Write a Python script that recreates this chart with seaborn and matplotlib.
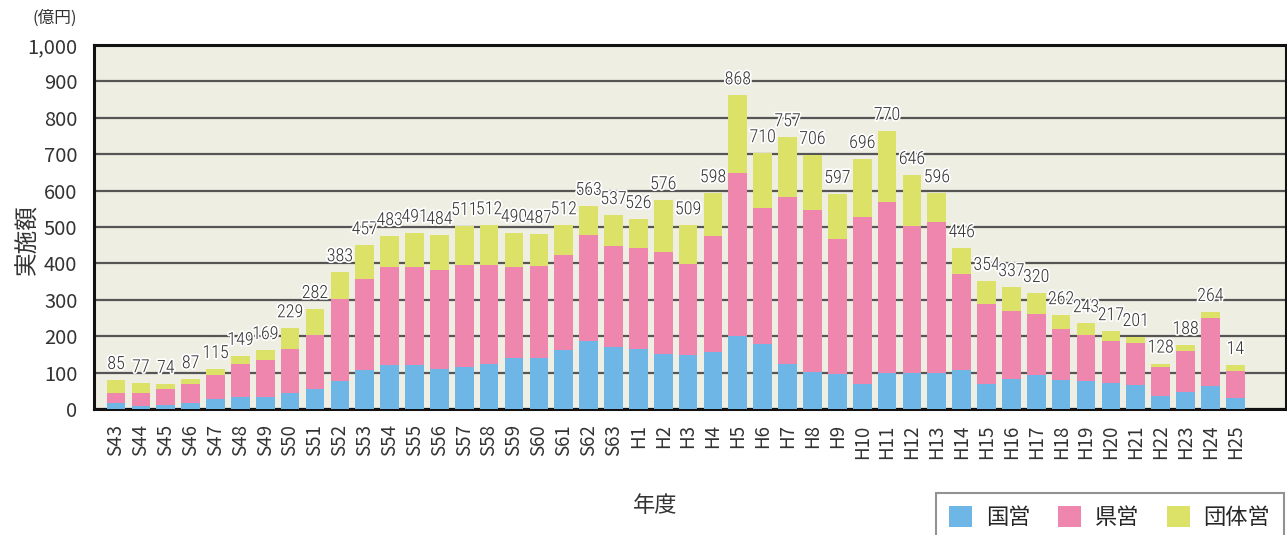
import numpy as np
import pandas as pd
import matplotlib
matplotlib.use("Agg")
import matplotlib.pyplot as plt
import matplotlib.patheffects as pe
from matplotlib.patches import Patch
from matplotlib import font_manager as fm
import seaborn as sns

years = ["S43", "S44", "S45", "S46", "S47", "S48", "S49", "S50", "S51", "S52",
         "S53", "S54", "S55", "S56", "S57", "S58", "S59", "S60", "S61", "S62",
         "S63", "H1", "H2", "H3", "H4", "H5", "H6", "H7", "H8", "H9", "H10",
         "H11", "H12", "H13", "H14", "H15", "H16", "H17", "H18", "H19", "H20",
         "H21", "H22", "H23", "H24", "H25"]
kokuei = [16, 9, 11, 16, 27, 32, 34, 43, 54, 77, 108, 121, 121, 110, 115, 124,
          141, 141, 163, 187, 170, 165, 152, 148, 157, 201, 179, 124, 103, 97,
          70, 99, 99, 99, 108, 70, 82, 93, 81, 77, 71, 66, 37, 48, 64, 31]
kenei = [27, 34, 44, 53, 66, 92, 101, 122, 149, 225, 249, 270, 270, 272, 281,
         272, 249, 252, 260, 291, 278, 277, 279, 250, 318, 447, 373, 458, 444,
         370, 457, 470, 405, 415, 263, 219, 187, 168, 139, 126, 116, 114, 78,
         111, 186, 73]
dantai = [37, 28, 14, 13, 17, 22, 27, 57, 72, 74, 93, 84, 93, 96, 107, 109, 94,
          88, 82, 80, 85, 80, 143, 107, 118, 214, 151, 165, 151, 124, 160, 195,
          139, 79, 71, 63, 66, 58, 38, 33, 27, 18, 10, 17, 17, 17]
total_labels = ["85", "77", "74", "87", "115", "149", "169", "229", "282", "383",
                "457", "483", "491", "484", "511", "512", "490", "487", "512",
                "563", "537", "526", "576", "509", "598", "868", "710", "757",
                "706", "597", "696", "770", "646", "596", "446", "354", "337",
                "320", "262", "243", "217", "201", "128", "188", "264", "14"]
series_names = ["国営", "県営", "団体営"]
colors = ["#6DB6E5", "#EF86AE", "#DCE267"]
y_ticks = [0, 100, 200, 300, 400, 500, 600, 700, 800, 900, 1000]
y_ticklabels = ["0", "100", "200", "300", "400", "500", "600", "700", "800", "900", "1,000"]

df = pd.DataFrame({"year": years, "kokuei": kokuei, "kenei": kenei, "dantai": dantai})
df["c1"] = df["kokuei"]
df["c2"] = df["kokuei"] + df["kenei"]
df["c3"] = df["c2"] + df["dantai"]

sns.set_style("white")
plt.rcParams["font.family"] = ["Noto Sans CJK JP", "DejaVu Sans"]

# condensed font for the value labels
available = {f.name for f in fm.fontManager.ttflist}
cond_family = "DejaVu Sans"
for cand in ["Roboto Condensed", "Open Sans Condensed", "Barlow Condensed",
             "PT Sans Narrow", "Archivo Narrow", "Barlow Semi Condensed",
             "Liberation Sans Narrow", "DejaVu Sans Condensed"]:
    if cand in available:
        cond_family = cand
        break
cond_fp = fm.FontProperties(family=cond_family, size=13, weight="light")

fig = plt.figure(figsize=(12.87, 5.35), dpi=100)
ax = fig.add_axes([94 / 1287, 126 / 535, 1192 / 1287, 364 / 535])
ax.set_facecolor("#EFEEE3")

for col, c in zip(["c3", "c2", "c1"], [colors[2], colors[1], colors[0]]):
    sns.barplot(data=df, x="year", y=col, color=c, width=0.75, ax=ax,
                saturation=1, linewidth=0, zorder=3, order=years)

ax.set_ylim(0, 1000)
ax.set_xlim(-0.885, 47.04)
ax.set_yticks(y_ticks)
ax.set_yticklabels(y_ticklabels, fontsize=14.5, color="#333333")
ax.tick_params(axis="y", length=0, pad=12)
ax.tick_params(axis="x", length=0, pad=11)
ax.set_xticks(range(len(years)))
ax.set_xticklabels(years, rotation=90, fontsize=13.5, color="#333333")
ax.yaxis.grid(True, color="#555555", linewidth=1.6, zorder=1)
ax.set_axisbelow(True)
for s in ax.spines.values():
    s.set_visible(True)
    s.set_color("#111111")
    s.set_linewidth(2.2)
ax.set_xlabel("")
ax.set_ylabel("")

for i, (lab, tot) in enumerate(zip(total_labels, df["c3"])):
    ax.annotate(lab, (i, tot), xytext=(0, 5), textcoords="offset points",
                ha="center", va="bottom", color="#333333",
                fontproperties=cond_fp, zorder=5,
                path_effects=[pe.withStroke(linewidth=2.5, foreground="white")])

fig.text(28 / 1287, 1 - 240 / 535, "実施額", rotation=90, ha="center", va="center",
         fontsize=17, color="#333333")
fig.text(55 / 1287, 1 - 18 / 535, "(億円)", ha="center", va="center",
         fontsize=12, color="#333333")
fig.text(655 / 1287, 1 - 505 / 535, "年度", ha="center", va="center",
         fontsize=16, color="#333333")

handles = [Patch(facecolor=c, edgecolor="none", label=n) for c, n in zip(colors, series_names)]
leg = fig.legend(handles=handles, loc="lower right", bbox_to_anchor=(1.006, -0.035),
                 ncol=3, frameon=True, fancybox=False, fontsize=16,
                 handlelength=1.05, handleheight=1.05, handletextpad=0.6,
                 columnspacing=1.25, borderpad=0.6)
leg.get_frame().set_edgecolor("#777777")
leg.get_frame().set_linewidth(1.5)

fig.savefig("out.png", dpi=100)
